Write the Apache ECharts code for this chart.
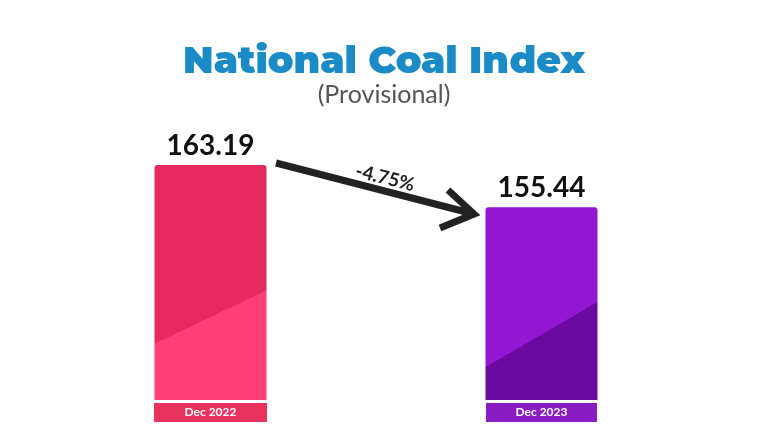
<!DOCTYPE html>
<html><head><meta charset="utf-8">
<script src="https://cdn.jsdelivr.net/npm/echarts@6/dist/echarts.min.js"></script>
<style>html,body{margin:0;background:#fff}#c{width:768px;height:447px}</style>
</head><body><div id="c"></div>
<script>
const categories = ['Dec 2022', 'Dec 2023'];
const values = [163.19, 155.44];
const change = '-4.75%';
const barColors = [
  {c0:'#e8295f', c1:'#ff3d77', bg:'#e8335f'},
  {c0:'#9216d2', c1:'#6a0a9e', bg:'#8a1cc4'}
];
const chart = echarts.init(document.getElementById('c'));
chart.setOption({
  backgroundColor:'#fff',
  title:[
    {text:'National Coal Index', left:'center', top:38, textStyle:{fontFamily:'Montserrat, Lato, sans-serif', fontSize:38, fontWeight:'900', color:'#1a8bc6'}},
    {text:'(Provisional)', left:'center', top:77, textStyle:{fontFamily:'Lato, sans-serif', fontSize:25, fontWeight:'normal', color:'#555'}}
  ],
  grid:{left:45, right:61, top:128, bottom:47},
  xAxis:{type:'category', data:categories, axisLine:{show:false}, axisTick:{show:false},
    axisLabel:{margin:3, interval:0, formatter:(v,i)=>'{a'+i+'|'+v+'}',
      rich:{
        a0:{backgroundColor:barColors[0].bg, color:'#fff', fontWeight:'bold', fontSize:12, width:113, height:19, align:'center', fontFamily:'Lato, sans-serif'},
        a1:{backgroundColor:barColors[1].bg, color:'#fff', fontWeight:'bold', fontSize:12, width:111, height:19, align:'center', fontFamily:'Lato, sans-serif'}
      }}},
  yAxis:{type:'value', min:120, max:170, show:false},
  series:[{type:'bar', barWidth:112,
    data: values.map((v,i)=>({value:v, itemStyle:{borderRadius:[3,3,0,0], color:new echarts.graphic.LinearGradient(0,0,1,1,[
      {offset:0,color:barColors[i].c0},{offset:0.62,color:barColors[i].c0},{offset:0.62,color:barColors[i].c1},{offset:1,color:barColors[i].c1}])}})),
    label:{show:true, position:'top', distance:5, fontSize:28, fontWeight:'bold', color:'#111', fontFamily:'Lato, sans-serif', formatter:p=>p.value.toFixed(2)}
  }],
  graphic:[
    {type:'line', shape:{x1:276,y1:163,x2:470,y2:213}, style:{stroke:'#222', lineWidth:7}},
    {type:'polyline', shape:{points:[[448,190],[474,214],[440,228]]}, style:{stroke:'#222', lineWidth:7, fill:null}},
    {type:'text', x:385, y:178, rotation:-0.25, style:{text:change, font:'bold 19px Lato, sans-serif', fill:'#222', align:'center', verticalAlign:'middle'}}
  ]
});
</script></body></html>
